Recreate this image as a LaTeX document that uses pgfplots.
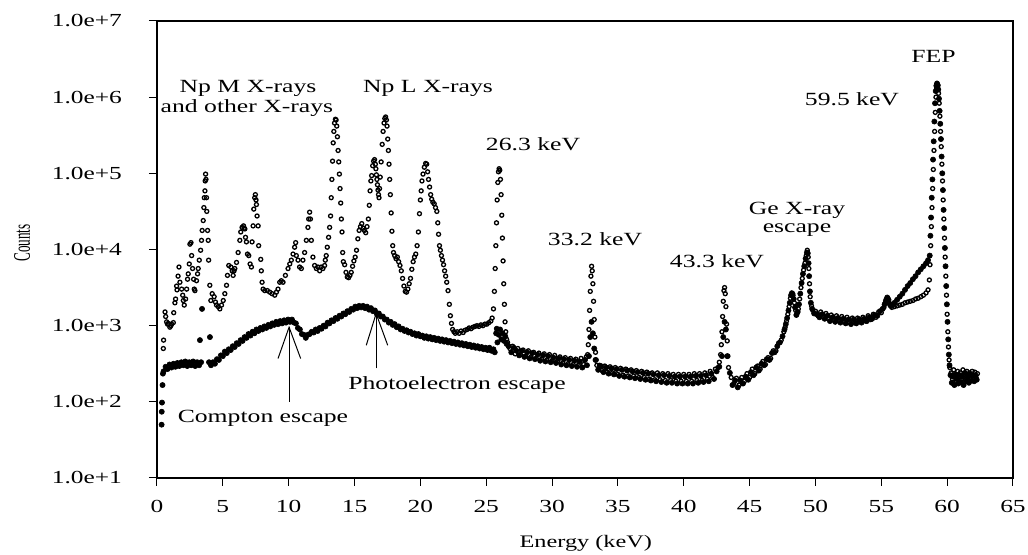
\documentclass[border=0pt]{standalone}
\usepackage{fontspec}
\setmainfont{Liberation Serif}[FakeStretch=1.38]
\newfontfamily\plainserif{Liberation Serif}
\usepackage{graphicx}
\usepackage{pgfplots}
\pgfplotsset{compat=1.18}
\usepackage{pgfplotstable}

% E = energy (keV), L = log10(counts)
\pgfplotstableread{
E L
0.48 2.70
0.50 2.81
0.61 3.18
0.66 3.12
0.73 3.05
0.80 3.02
0.86 3.03
0.98 2.98
1.05 3.00
1.11 3.02
1.24 3.04
1.27 3.17
1.36 3.30
1.41 3.35
1.49 3.52
1.52 3.47
1.60 3.65
1.67 3.77
1.74 3.57
1.87 3.48
1.95 3.40
2.00 3.33
2.07 3.27
2.17 3.35
2.25 3.48
2.32 3.61
2.37 3.68
2.45 3.81
2.50 4.07
2.58 4.09
2.63 3.92
2.70 3.75
2.78 3.61
2.83 3.48
2.88 3.46
3.00 3.59
3.08 3.68
3.13 3.75
3.21 3.86
3.31 3.99
3.38 4.12
3.43 4.25
3.51 4.38
3.56 4.55
3.59 4.68
3.64 4.77
3.66 4.90
3.69 4.99
3.72 4.92
3.76 4.68
3.78 4.50
3.84 4.25
3.89 4.12
3.92 3.86
4.01 3.53
4.09 3.33
4.19 3.42
4.34 3.38
4.44 3.31
4.52 3.27
4.65 3.25
4.77 3.22
4.90 3.27
5.03 3.33
5.15 3.42
5.28 3.53
5.35 3.66
5.45 3.79
5.61 3.77
5.71 3.72
5.78 3.66
5.85 3.72
5.91 3.75
6.04 3.83
6.16 3.96
6.29 4.12
6.36 4.23
6.46 4.29
6.57 4.31
6.62 4.28
6.67 4.27
6.72 4.16
6.79 4.10
6.87 3.94
6.97 3.92
7.07 3.81
7.17 3.77
7.22 4.10
7.30 4.31
7.35 4.53
7.42 4.68
7.47 4.72
7.52 4.65
7.55 4.59
7.60 4.44
7.68 4.31
7.72 4.05
7.88 3.87
7.92 3.72
7.98 3.57
8.06 3.48
8.18 3.46
8.38 3.46
8.56 3.44
8.74 3.42
8.94 3.40
9.07 3.44
9.19 3.48
9.32 3.57
9.44 3.59
9.57 3.57
9.75 3.66
9.95 3.75
10.08 3.81
10.20 3.86
10.33 3.94
10.45 4.03
10.53 4.09
10.58 3.92
10.71 3.86
10.83 3.77
10.96 3.75
11.08 3.86
11.21 3.96
11.34 4.12
11.46 4.29
11.52 4.40
11.59 4.49
11.65 4.40
11.72 4.12
11.84 3.90
11.97 3.79
12.10 3.75
12.22 3.77
12.35 3.72
12.47 3.77
12.60 3.75
12.73 3.79
12.78 3.86
12.85 3.92
12.93 4.03
13.03 4.16
13.11 4.29
13.18 4.44
13.23 4.68
13.28 4.92
13.33 5.16
13.38 5.40
13.43 5.55
13.48 5.66
13.55 5.71
13.60 5.70
13.65 5.62
13.70 5.48
13.75 5.30
13.80 5.15
13.85 4.99
13.90 4.80
13.95 4.61
14.00 4.40
14.05 4.23
14.10 3.96
14.15 3.84
14.25 3.80
14.35 3.70
14.45 3.64
14.55 3.63
14.65 3.66
14.75 3.70
14.85 3.78
14.95 3.85
15.05 3.90
15.15 3.99
15.25 4.14
15.35 4.25
15.45 4.30
15.55 4.34
15.65 4.28
15.75 4.25
15.85 4.22
15.95 4.30
16.05 4.40
16.12 4.58
16.18 4.77
16.24 4.90
16.30 4.97
16.38 5.10
16.45 5.16
16.52 5.18
16.58 5.12
16.62 5.06
16.66 4.98
16.70 4.92
16.74 4.85
16.78 4.78
16.82 4.72
16.86 4.68
16.90 4.80
16.95 4.95
17.02 5.15
17.10 5.38
17.17 5.55
17.24 5.66
17.30 5.72
17.36 5.74
17.42 5.70
17.47 5.62
17.52 5.45
17.57 5.30
17.62 5.12
17.67 4.92
17.72 4.72
17.78 4.48
17.84 4.24
17.90 4.05
17.96 3.96
18.05 3.92
18.15 3.88
18.25 3.90
18.35 3.84
18.45 3.79
18.55 3.72
18.65 3.62
18.75 3.52
18.85 3.45
18.95 3.44
19.05 3.48
19.15 3.55
19.25 3.62
19.35 3.74
19.45 3.84
19.55 3.90
19.65 3.94
19.75 4.05
19.85 4.23
19.93 4.47
20.00 4.65
20.06 4.77
20.12 4.90
20.20 4.99
20.30 5.08
20.40 5.13
20.48 5.12
20.55 5.02
20.62 4.92
20.70 4.82
20.78 4.72
20.86 4.66
20.95 4.62
21.05 4.60
21.15 4.55
21.25 4.50
21.32 4.35
21.38 4.20
21.45 4.05
21.52 3.99
21.60 3.92
21.68 3.86
21.76 3.80
21.84 3.72
21.92 3.65
22.00 3.57
22.10 3.46
22.20 3.28
22.28 3.13
22.36 3.03
22.45 2.95
22.55 2.92
22.65 2.90
22.80 2.92
22.95 2.90
23.10 2.93
23.25 2.91
23.40 2.94
23.55 2.95
23.70 2.97
23.85 2.96
24.00 2.98
24.15 2.99
24.30 3.00
24.45 2.99
24.60 3.01
24.75 3.00
24.90 3.02
25.05 3.02
25.20 3.04
25.35 3.06
25.45 3.10
25.55 3.22
25.62 3.45
25.68 3.75
25.73 4.05
25.78 4.35
25.83 4.65
25.88 4.88
25.93 5.02
25.98 5.06
26.03 5.04
26.08 4.92
26.13 4.72
26.18 4.45
26.23 4.15
26.28 3.85
26.33 3.55
26.38 3.28
26.43 3.05
26.48 2.92
26.55 2.82
26.62 2.78
26.80 2.70
27.00 2.73
27.20 2.63
27.40 2.70
27.60 2.62
27.80 2.68
28.00 2.60
28.20 2.67
28.40 2.59
28.60 2.65
28.80 2.57
29.00 2.64
29.20 2.56
29.40 2.63
29.60 2.55
29.80 2.62
30.00 2.54
30.20 2.61
30.40 2.53
30.60 2.59
30.80 2.51
31.00 2.58
31.20 2.50
31.40 2.57
31.60 2.49
31.80 2.56
32.00 2.48
32.20 2.57
32.40 2.49
32.60 2.59
32.70 2.62
32.75 2.75
32.80 2.95
32.85 3.20
32.90 3.45
32.95 3.65
33.00 3.78
33.05 3.72
33.10 3.55
33.15 3.32
33.20 3.08
33.25 2.85
33.30 2.65
33.35 2.55
33.40 2.48
33.60 2.48
33.80 2.41
34.00 2.47
34.20 2.39
34.40 2.46
34.60 2.38
34.80 2.45
35.00 2.36
35.20 2.44
35.40 2.35
35.60 2.43
35.80 2.34
36.00 2.42
36.20 2.34
36.40 2.41
36.60 2.32
36.80 2.40
37.00 2.32
37.20 2.39
37.40 2.30
37.60 2.38
37.80 2.29
38.00 2.38
38.20 2.29
38.40 2.37
38.60 2.28
38.80 2.37
39.00 2.28
39.20 2.36
39.40 2.27
39.60 2.36
39.80 2.27
40.00 2.36
40.20 2.27
40.40 2.36
40.60 2.27
40.80 2.37
41.00 2.28
41.20 2.37
41.40 2.28
41.60 2.38
41.80 2.30
42.00 2.40
42.20 2.32
42.40 2.43
42.60 2.45
42.70 2.52
42.80 2.62
42.85 2.75
42.90 2.92
42.95 3.12
43.00 3.32
43.05 3.46
43.10 3.50
43.15 3.42
43.20 3.25
43.25 3.02
43.30 2.80
43.35 2.60
43.40 2.45
43.60 2.32
43.80 2.24
44.00 2.31
44.20 2.22
44.40 2.32
44.60 2.27
44.80 2.37
45.00 2.32
45.20 2.43
45.40 2.37
45.60 2.47
45.80 2.43
46.00 2.53
46.20 2.49
46.40 2.58
46.60 2.57
46.80 2.67
47.00 2.67
47.20 2.77
47.40 2.81
47.60 2.92
47.70 2.98
47.80 3.06
47.90 3.15
48.00 3.25
48.10 3.36
48.20 3.43
48.30 3.40
48.40 3.30
48.50 3.20
48.60 3.16
48.70 3.22
48.80 3.35
48.90 3.50
49.00 3.62
49.10 3.73
49.20 3.82
49.30 3.92
49.38 3.99
49.45 3.90
49.50 3.75
49.55 3.55
49.60 3.38
49.70 3.26
49.80 3.20
50.00 3.19
50.20 3.13
50.40 3.18
50.60 3.11
50.80 3.16
51.00 3.09
51.20 3.14
51.40 3.07
51.60 3.13
51.80 3.06
52.00 3.12
52.20 3.05
52.40 3.11
52.60 3.04
52.80 3.10
53.00 3.04
53.20 3.10
53.40 3.05
53.60 3.11
53.80 3.06
54.00 3.13
54.20 3.08
54.40 3.15
54.60 3.11
54.80 3.18
55.00 3.17
55.20 3.24
55.30 3.30
55.40 3.35
55.50 3.36
55.60 3.30
55.70 3.26
55.80 3.24
56.00 3.25
56.20 3.26
56.40 3.27
56.60 3.28
56.80 3.30
57.00 3.31
57.20 3.32
57.40 3.33
57.60 3.35
57.80 3.36
58.00 3.38
58.20 3.40
58.40 3.43
58.55 3.47
58.65 3.60
58.70 3.80
58.75 4.05
58.80 4.30
58.85 4.55
58.90 4.80
58.95 5.05
59.00 5.30
59.05 5.55
59.10 5.80
59.15 6.00
59.20 6.12
59.25 6.17
59.30 6.15
59.35 6.05
59.40 5.92
59.45 5.75
59.50 5.55
59.55 5.35
59.60 5.12
59.65 4.90
59.70 4.65
59.75 4.40
59.80 4.15
59.85 3.90
59.90 3.65
59.95 3.40
60.00 3.15
60.05 2.92
60.10 2.72
60.15 2.55
60.20 2.45
60.30 2.38
60.40 2.30
60.50 2.42
60.60 2.35
60.70 2.28
60.80 2.40
60.90 2.33
61.00 2.38
61.10 2.30
61.20 2.42
61.30 2.36
61.40 2.29
61.50 2.40
61.60 2.34
61.70 2.38
61.80 2.30
61.90 2.40
62.00 2.35
62.10 2.39
62.20 2.32
62.30 2.37
}\spectrumA

\pgfplotstableread{
E L
0.35 1.70
0.36 1.87
0.38 1.99
0.42 2.22
0.45 2.37
0.50 2.40
0.65 2.46
0.80 2.43
0.95 2.49
1.10 2.45
1.25 2.50
1.40 2.46
1.55 2.51
1.70 2.47
1.85 2.52
2.00 2.48
2.15 2.53
2.30 2.47
2.45 2.52
2.60 2.48
2.75 2.53
2.90 2.47
3.05 2.52
3.20 2.48
3.26 2.81
3.35 2.52
3.42 3.22
3.95 2.52
4.02 2.85
4.10 2.48
4.25 2.52
4.40 2.50
4.55 2.56
4.70 2.55
4.85 2.61
5.00 2.60
5.15 2.66
5.30 2.64
5.45 2.69
5.60 2.68
5.75 2.73
5.90 2.72
6.05 2.77
6.20 2.76
6.35 2.81
6.50 2.80
6.65 2.85
6.80 2.84
6.95 2.89
7.10 2.87
7.25 2.92
7.40 2.90
7.55 2.95
7.70 2.93
7.85 2.97
8.00 2.95
8.15 2.99
8.30 2.97
8.45 3.01
8.60 2.99
8.75 3.03
8.90 3.01
9.05 3.05
9.20 3.02
9.35 3.06
9.50 3.03
9.65 3.07
9.80 3.04
9.95 3.08
10.10 3.05
10.25 3.08
10.40 3.04
10.55 3.03
10.70 2.97
10.85 2.95
11.00 2.89
11.15 2.88
11.30 2.84
11.45 2.88
11.60 2.89
11.75 2.92
11.90 2.91
12.05 2.95
12.20 2.93
12.35 2.97
12.50 2.96
12.65 3.00
12.80 2.99
12.95 3.04
13.10 3.03
13.25 3.07
13.40 3.06
13.55 3.10
13.70 3.09
13.85 3.13
14.00 3.12
14.15 3.16
14.30 3.15
14.45 3.19
14.60 3.18
14.75 3.22
14.90 3.21
15.05 3.25
15.20 3.23
15.35 3.26
15.50 3.24
15.65 3.26
15.80 3.23
15.95 3.25
16.10 3.21
16.25 3.23
16.40 3.19
16.55 3.20
16.70 3.15
16.85 3.16
17.00 3.12
17.15 3.12
17.30 3.08
17.45 3.08
17.60 3.04
17.75 3.05
17.90 3.01
18.05 3.02
18.20 2.98
18.35 2.99
18.50 2.95
18.65 2.96
18.80 2.93
18.95 2.94
19.10 2.91
19.25 2.92
19.40 2.89
19.55 2.90
19.70 2.87
19.85 2.89
20.00 2.86
20.15 2.87
20.30 2.84
20.45 2.86
20.60 2.83
20.75 2.85
20.90 2.82
21.05 2.84
21.20 2.81
21.35 2.83
21.50 2.80
21.65 2.82
21.80 2.79
21.95 2.81
22.10 2.78
22.25 2.80
22.40 2.77
22.55 2.79
22.70 2.76
22.85 2.78
23.00 2.75
23.15 2.77
23.30 2.74
23.45 2.76
23.60 2.73
23.75 2.75
23.90 2.72
24.05 2.74
24.20 2.71
24.35 2.73
24.50 2.70
24.65 2.72
24.80 2.69
24.95 2.71
25.10 2.68
25.25 2.71
25.40 2.67
25.55 2.69
25.65 2.65
25.75 2.90
25.80 2.96
25.85 2.78
25.95 2.88
26.05 2.95
26.15 2.82
26.25 2.90
26.35 2.80
26.45 2.86
26.55 2.76
26.70 2.73
26.90 2.65
27.10 2.71
27.30 2.67
27.50 2.61
27.70 2.67
27.90 2.59
28.10 2.65
28.30 2.57
28.50 2.64
28.70 2.56
28.90 2.62
29.10 2.54
29.30 2.61
29.50 2.53
29.70 2.60
29.90 2.52
30.10 2.58
30.30 2.51
30.50 2.57
30.70 2.49
30.90 2.56
31.10 2.48
31.30 2.55
31.50 2.47
31.70 2.54
31.90 2.46
32.10 2.53
32.30 2.45
32.50 2.55
32.65 2.48
32.80 2.60
32.90 2.85
33.00 3.05
33.10 2.90
33.20 2.70
33.30 2.55
33.50 2.42
33.70 2.47
33.90 2.39
34.10 2.45
34.30 2.37
34.50 2.44
34.70 2.36
34.90 2.43
35.10 2.34
35.30 2.42
35.50 2.33
35.70 2.41
35.90 2.32
36.10 2.40
36.30 2.31
36.50 2.39
36.70 2.30
36.90 2.38
37.10 2.29
37.30 2.37
37.50 2.28
37.70 2.36
37.90 2.27
38.10 2.35
38.30 2.26
38.50 2.35
38.70 2.25
38.90 2.34
39.10 2.25
39.30 2.33
39.50 2.24
39.70 2.33
39.90 2.24
40.10 2.33
40.30 2.24
40.50 2.33
40.70 2.24
40.90 2.34
41.10 2.25
41.30 2.34
41.50 2.26
41.70 2.35
41.90 2.27
42.10 2.37
42.30 2.30
42.50 2.40
42.70 2.46
42.90 2.60
43.00 2.85
43.10 3.05
43.20 2.95
43.30 2.60
43.50 2.38
43.70 2.22
43.90 2.28
44.10 2.19
44.30 2.28
44.50 2.24
44.70 2.33
44.90 2.29
45.10 2.39
45.30 2.35
45.50 2.45
45.70 2.41
45.90 2.50
46.10 2.48
46.30 2.56
46.50 2.55
46.70 2.64
46.90 2.65
47.10 2.73
47.30 2.78
47.50 2.86
47.65 2.95
47.75 3.02
47.85 3.10
47.95 3.20
48.05 3.30
48.15 3.40
48.25 3.42
48.35 3.35
48.45 3.24
48.55 3.14
48.65 3.18
48.75 3.28
48.85 3.42
48.95 3.56
49.05 3.68
49.15 3.78
49.25 3.88
49.35 3.96
49.42 3.95
49.48 3.82
49.52 3.65
49.58 3.45
49.65 3.30
49.75 3.22
49.90 3.16
50.10 3.15
50.30 3.11
50.50 3.15
50.70 3.09
50.90 3.13
51.10 3.06
51.30 3.11
51.50 3.05
51.70 3.10
51.90 3.04
52.10 3.09
52.30 3.03
52.50 3.08
52.70 3.02
52.90 3.08
53.10 3.03
53.30 3.08
53.50 3.04
53.70 3.09
53.90 3.06
54.10 3.11
54.30 3.09
54.50 3.14
54.70 3.13
54.90 3.19
55.10 3.22
55.25 3.28
55.35 3.33
55.45 3.37
55.55 3.34
55.65 3.28
55.75 3.26
55.85 3.27
56.00 3.30
56.20 3.34
56.40 3.38
56.60 3.42
56.80 3.47
57.00 3.52
57.20 3.56
57.40 3.61
57.60 3.65
57.80 3.70
58.00 3.74
58.20 3.78
58.40 3.82
58.55 3.86
58.68 3.92
58.73 4.18
58.78 4.42
58.83 4.68
58.88 4.92
58.93 5.18
58.98 5.42
59.03 5.68
59.08 5.92
59.13 6.08
59.18 6.15
59.23 6.18
59.28 6.16
59.33 6.10
59.38 5.98
59.43 5.82
59.48 5.65
59.53 5.45
59.58 5.22
59.63 5.00
59.68 4.78
59.73 4.52
59.78 4.28
59.83 4.02
59.88 3.78
59.93 3.52
59.98 3.28
60.03 3.05
60.08 2.82
60.13 2.62
60.18 2.48
60.25 2.35
60.35 2.25
60.45 2.33
60.55 2.22
60.65 2.36
60.75 2.30
60.85 2.24
60.95 2.35
61.05 2.26
61.15 2.33
61.25 2.22
61.35 2.38
61.45 2.27
61.55 2.32
61.65 2.25
61.75 2.36
61.85 2.28
61.95 2.34
62.05 2.27
62.15 2.35
62.25 2.29
}\spectrumB

\newcommand{\annot}{\fontsize{9.3}{11}\selectfont}

\begin{document}
\begin{tikzpicture}
\useasboundingbox (-78.5pt,-38.5pt) rectangle (435.5pt,239pt);
\begin{axis}[
  at={(0pt,0pt)}, anchor=south west,
  scale only axis, width=428pt, height=228.5pt,
  xmin=0, xmax=65, ymin=10, ymax=1e7, ymode=log,
  xtick={0,5,10,15,20,25,30,35,40,45,50,55,60,65},
  xticklabels={0,5,10,15,20,25,30,35,40,45,50,55,60,65},
  ytick={1e1,1e2,1e3,1e4,1e5,1e6,1e7},
  yticklabels={1.0e+1,1.0e+2,1.0e+3,1.0e+4,1.0e+5,1.0e+6,1.0e+7},
  yminorticks=false, xminorticks=false,
  tick pos=left, tick align=outside,
  major tick length=4pt,
  tick style={black, line width=0.5pt},
  axis line style={line width=0.6pt},
  ticklabel style={font=\fontsize{9.2}{11}\selectfont},
  xticklabel style={yshift=-3.5pt},
  yticklabel style={xshift=-10pt},
  xlabel={Energy (keV)},
  xlabel style={at={(axis description cs:0.501,0)}, anchor=center, yshift=-32.5pt, font=\fontsize{8.8}{10}\selectfont},
  ylabel={\scalebox{1}[1.8]{\plainserif\fontsize{6.6}{8}\selectfont Counts}},
  ylabel style={at={(axis description cs:-0.1577,0.514)}, anchor=center},
  clip=false,
  every mark/.append style={xscale=1.3},
]
\addplot[only marks, mark=o, mark size=1.0pt, black, mark options={line width=0.65pt}]
  table[x=E, y expr={10^(\thisrow{L})}] {\spectrumA};
\addplot[only marks, mark=*, mark size=1.3pt, black, mark options={line width=0.3pt}]
  table[x=E, y expr={10^(\thisrow{L})}] {\spectrumB};

\node[anchor=base, font=\annot] at (rel axis cs:0.1063,0.8446) {Np M X-rays};
\node[anchor=base, font=\annot] at (rel axis cs:0.1051,0.7987) {and other X-rays};
\node[anchor=base, font=\annot] at (rel axis cs:0.3166,0.8446) {Np L X-rays};
\node[anchor=base, font=\annot] at (rel axis cs:0.4393,0.7177) {26.3 keV};
\node[anchor=base, font=\annot] at (rel axis cs:0.5117,0.5098) {33.2 keV};
\node[anchor=base, font=\annot] at (rel axis cs:0.6542,0.4595) {43.3 keV};
\node[anchor=base, font=\annot] at (rel axis cs:0.7477,0.5755) {Ge X-ray};
\node[anchor=base, font=\annot] at (rel axis cs:0.7477,0.5361) {escape};
\node[anchor=base, font=\annot] at (rel axis cs:0.8119,0.8140) {59.5 keV};
\node[anchor=base, font=\annot] at (rel axis cs:0.9071,0.9081) {FEP};
\node[anchor=base, font=\annot] at (rel axis cs:0.1238,0.1225) {Compton escape};
\node[anchor=base, font=\annot] at (rel axis cs:0.3505,0.1947) {Photoelectron escape};

\draw[line width=0.5pt] (axis cs:10.03,100) -- (axis cs:10.03,955);
\draw[line width=0.5pt] (axis cs:9.19,370) -- (axis cs:10.03,955) -- (axis cs:10.91,370);
\draw[line width=0.5pt] (axis cs:16.64,274) -- (axis cs:16.64,1440);
\draw[line width=0.5pt] (axis cs:15.89,552) -- (axis cs:16.64,1440) -- (axis cs:17.52,552);
\end{axis}
\end{tikzpicture}
\end{document}
